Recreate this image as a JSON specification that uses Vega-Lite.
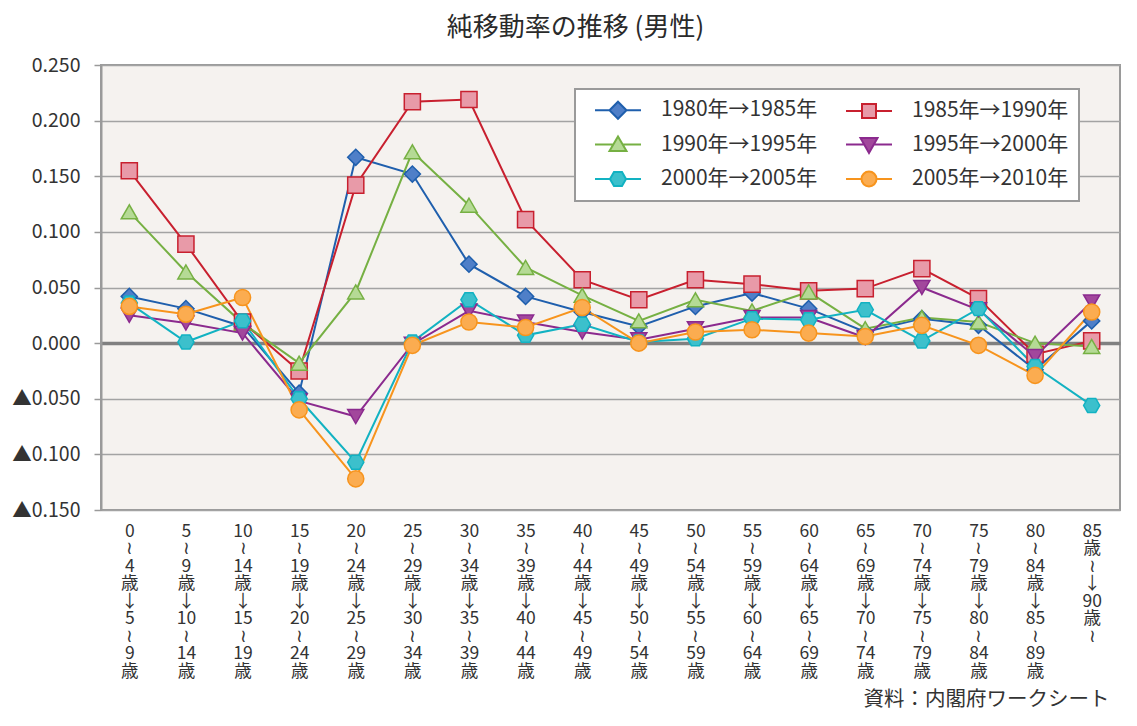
{
  "$schema": "https://vega.github.io/schema/vega-lite/v6.json",
  "width": 1019,
  "height": 445,
  "autosize": {"type": "none"},
  "padding": {"left": 101, "top": 65, "right": 17, "bottom": 216},
  "background": "#ffffff",
  "title": {"text": "純移動率の推移 (男性)", "fontSize": 26, "font": "Noto Sans CJK JP", "fontWeight": "normal", "color": "#2a2a2a", "anchor": "middle", "dx": -35, "offset": 14},
  "config": {
    "font": "Noto Sans CJK JP",
    "view": {"stroke": "#9a9a9a", "strokeWidth": 2, "fill": "#f5f2ef"}
  },
  "data": {
    "values": [
      {"age": "0|≀|4|歳|↓|5|≀|9|歳", "1980年→1985年": 0.042, "1985年→1990年": 0.155, "1990年→1995年": 0.118, "1995年→2000年": 0.025, "2000年→2005年": 0.036, "2005年→2010年": 0.033},
      {"age": "5|≀|9|歳|↓|10|≀|14|歳", "1980年→1985年": 0.031, "1985年→1990年": 0.089, "1990年→1995年": 0.064, "1995年→2000年": 0.018, "2000年→2005年": 0.001, "2005年→2010年": 0.026},
      {"age": "10|≀|14|歳|↓|15|≀|19|歳", "1980年→1985年": 0.015, "1985年→1990年": 0.019, "1990年→1995年": 0.018, "1995年→2000年": 0.009, "2000年→2005年": 0.020, "2005年→2010年": 0.041},
      {"age": "15|≀|19|歳|↓|20|≀|24|歳", "1980年→1985年": -0.045, "1985年→1990年": -0.025, "1990年→1995年": -0.018, "1995年→2000年": -0.052, "2000年→2005年": -0.050, "2005年→2010年": -0.060},
      {"age": "20|≀|24|歳|↓|25|≀|29|歳", "1980年→1985年": 0.167, "1985年→1990年": 0.142, "1990年→1995年": 0.046, "1995年→2000年": -0.066, "2000年→2005年": -0.107, "2005年→2010年": -0.122},
      {"age": "25|≀|29|歳|↓|30|≀|34|歳", "1980年→1985年": 0.152, "1985年→1990年": 0.217, "1990年→1995年": 0.172, "1995年→2000年": -0.001, "2000年→2005年": 0.001, "2005年→2010年": -0.002},
      {"age": "30|≀|34|歳|↓|35|≀|39|歳", "1980年→1985年": 0.071, "1985年→1990年": 0.219, "1990年→1995年": 0.124, "1995年→2000年": 0.029, "2000年→2005年": 0.039, "2005年→2010年": 0.019},
      {"age": "35|≀|39|歳|↓|40|≀|44|歳", "1980年→1985年": 0.042, "1985年→1990年": 0.111, "1990年→1995年": 0.068, "1995年→2000年": 0.019, "2000年→2005年": 0.007, "2005年→2010年": 0.014},
      {"age": "40|≀|44|歳|↓|45|≀|49|歳", "1980年→1985年": 0.028, "1985年→1990年": 0.057, "1990年→1995年": 0.043, "1995年→2000年": 0.010, "2000年→2005年": 0.017, "2005年→2010年": 0.032},
      {"age": "45|≀|49|歳|↓|50|≀|54|歳", "1980年→1985年": 0.015, "1985年→1990年": 0.039, "1990年→1995年": 0.020, "1995年→2000年": 0.003, "2000年→2005年": 0.001, "2005年→2010年": 0.000},
      {"age": "50|≀|54|歳|↓|55|≀|59|歳", "1980年→1985年": 0.033, "1985年→1990年": 0.057, "1990年→1995年": 0.039, "1995年→2000年": 0.013, "2000年→2005年": 0.004, "2005年→2010年": 0.010},
      {"age": "55|≀|59|歳|↓|60|≀|64|歳", "1980年→1985年": 0.045, "1985年→1990年": 0.053, "1990年→1995年": 0.029, "1995年→2000年": 0.023, "2000年→2005年": 0.022, "2005年→2010年": 0.012},
      {"age": "60|≀|64|歳|↓|65|≀|69|歳", "1980年→1985年": 0.031, "1985年→1990年": 0.047, "1990年→1995年": 0.046, "1995年→2000年": 0.023, "2000年→2005年": 0.021, "2005年→2010年": 0.009},
      {"age": "65|≀|69|歳|↓|70|≀|74|歳", "1980年→1985年": 0.010, "1985年→1990年": 0.049, "1990年→1995年": 0.013, "1995年→2000年": 0.005, "2000年→2005年": 0.030, "2005年→2010年": 0.006},
      {"age": "70|≀|74|歳|↓|75|≀|79|歳", "1980年→1985年": 0.022, "1985年→1990年": 0.067, "1990年→1995年": 0.023, "1995年→2000年": 0.050, "2000年→2005年": 0.002, "2005年→2010年": 0.016},
      {"age": "75|≀|79|歳|↓|80|≀|84|歳", "1980年→1985年": 0.016, "1985年→1990年": 0.040, "1990年→1995年": 0.019, "1995年→2000年": 0.030, "2000年→2005年": 0.031, "2005年→2010年": -0.002},
      {"age": "80|≀|84|歳|↓|85|≀|89|歳", "1980年→1985年": -0.024, "1985年→1990年": -0.010, "1990年→1995年": 0.000, "1995年→2000年": -0.012, "2000年→2005年": -0.021, "2005年→2010年": -0.029},
      {"age": "85|歳|≀||↓|90|歳|≀", "1980年→1985年": 0.020, "1985年→1990年": 0.002, "1990年→1995年": -0.003, "1995年→2000年": 0.037, "2000年→2005年": -0.056, "2005年→2010年": 0.028}
    ]
  },
  "transform": [
    {"fold": ["1980年→1985年", "1985年→1990年", "1990年→1995年", "1995年→2000年", "2000年→2005年", "2005年→2010年"], "as": ["series", "value"]}
  ],
  "encoding": {
    "x": {
      "field": "age", "type": "ordinal", "sort": null,
      "axis": {
        "title": "資料：内閣府ワークシート",
        "labelExpr": "split(datum.label, '|')",
        "labelAngle": 0, "domain": false, "ticks": false,
        "labelFontSize": 17.5, "labelLineHeight": 17.5, "labelPadding": 12,
        "labelColor": "#333333", "labelBaseline": "top", "labelOverlap": false,
        "titleX": 1008, "titleAlign": "right", "titleFontSize": 20.5,
        "titleFontWeight": "normal", "titleColor": "#333333", "titlePadding": 10
      }
    },
    "y": {
      "field": "value", "type": "quantitative",
      "scale": {"domain": [-0.15, 0.25], "nice": false, "zero": false},
      "axis": {
        "title": null,
        "values": [-0.15, -0.1, -0.05, 0, 0.05, 0.1, 0.15, 0.2, 0.25],
        "labelExpr": "datum.value < 0 ? '▲' + format(-datum.value, '.3f') : format(datum.value, '.3f')",
        "labelFontSize": 19.5, "labelColor": "#333333", "labelPadding": 14,
        "tickSize": 7, "tickColor": "#9a9a9a", "tickWidth": 1.5,
        "domainColor": "#9a9a9a", "domainWidth": 2,
        "gridColor": {"condition": {"test": "datum.value === 0", "value": "#808080"}, "value": "#a3a3a3"},
        "gridWidth": {"condition": {"test": "datum.value === 0", "value": 3.5}, "value": 1.5}
      }
    }
  },
  "layer": [
    {
      "mark": {"type": "line", "strokeWidth": 2},
      "encoding": {
        "stroke": {
          "field": "series", "type": "nominal", "sort": null,
          "scale": {
            "domain": ["1980年→1985年", "1985年→1990年", "1990年→1995年", "1995年→2000年", "2000年→2005年", "2005年→2010年"],
            "range": ["#1f5fad", "#c8202f", "#76b043", "#8b2a8e", "#12b2c2", "#f7941d"]
          },
          "legend": {
            "title": null, "orient": "none", "legendX": 474, "legendY": 24,
            "columns": 2, "direction": "horizontal", "columnPadding": 18, "rowPadding": 9.5,
            "symbolSize": 400, "symbolStrokeWidth": 2, "symbolOffset": 22,
            "labelFontSize": 21, "labelColor": "#333333", "labelOffset": 32, "labelLimit": 300,
            "fillColor": "#ffffff", "strokeColor": "#9a9a9a", "padding": 10,
            "encode": {
              "legend": {"update": {"strokeWidth": {"value": 2}}},
              "symbols": {
                "update": {
                  "shape": {"signal": "['M-2.3,0L-0.85,0M0.85,0L2.3,0M0,-0.85L0.85,0L0,0.85L-0.85,0Z', 'M-2.3,0L-0.7,0M0.7,0L2.3,0M-0.7,-0.7L0.7,-0.7L0.7,0.7L-0.7,0.7Z', 'M-2.3,0L-0.47,0M0.47,0L2.3,0M0,-0.8L0.85,0.65L-0.85,0.65Z', 'M-2.3,0L-0.48,0M0.48,0L2.3,0M0,0.85L0.85,-0.65L-0.85,-0.65Z', 'M-2.3,0L-0.8,0M0.8,0L2.3,0M-0.8,0L-0.4,-0.7L0.4,-0.7L0.8,0L0.4,0.7L-0.4,0.7Z', 'M-2.3,0L-0.75,0M0.75,0L2.3,0M0.75,0A0.75,0.75,0,1,1,-0.75,0A0.75,0.75,0,1,1,0.75,0Z'][indexof(['1980年→1985年', '1985年→1990年', '1990年→1995年', '1995年→2000年', '2000年→2005年', '2005年→2010年'], datum.value)]"},
                  "fill": {"signal": "['#4f7fc8', '#e89aa8', '#b5da95', '#a2479c', '#3cc0cc', '#fbac50'][indexof(['1980年→1985年', '1985年→1990年', '1990年→1995年', '1995年→2000年', '2000年→2005年', '2005年→2010年'], datum.value)]"},
                  "stroke": {"signal": "['#1f5fad', '#c8202f', '#76b043', '#8b2a8e', '#12b2c2', '#f7941d'][indexof(['1980年→1985年', '1985年→1990年', '1990年→1995年', '1995年→2000年', '2000年→2005年', '2005年→2010年'], datum.value)]"},
                  "opacity": {"value": 1},
                  "strokeOpacity": {"value": 1},
                  "strokeWidth": {"value": 2}
                }
              }
            }
          }
        }
      }
    },
    {
      "transform": [
        {"lookup": "series", "from": {"data": {"values": [
          {"name": "1980年→1985年", "mk": "A"},
          {"name": "1985年→1990年", "mk": "B"},
          {"name": "1990年→1995年", "mk": "C"},
          {"name": "1995年→2000年", "mk": "D"},
          {"name": "2000年→2005年", "mk": "E"},
          {"name": "2005年→2010年", "mk": "F"}
        ]}, "key": "name", "fields": ["mk"]}}
      ],
      "mark": {"type": "point", "filled": false, "size": 260, "strokeWidth": 1.5, "opacity": 1},
      "encoding": {
        "color": {
          "field": "mk", "type": "nominal",
          "scale": {"domain": ["A", "B", "C", "D", "E", "F"], "range": ["#1f5fad", "#c8202f", "#76b043", "#8b2a8e", "#12b2c2", "#f7941d"]},
          "legend": null
        },
        "fill": {
          "field": "mk", "type": "nominal",
          "scale": {"domain": ["A", "B", "C", "D", "E", "F"], "range": ["#4f7fc8", "#e89aa8", "#b5da95", "#a2479c", "#3cc0cc", "#fbac50"]},
          "legend": null
        },
        "shape": {
          "field": "mk", "type": "nominal",
          "scale": {"domain": ["A", "B", "C", "D", "E", "F"], "range": ["diamond", "square", "triangle-up", "triangle-down", "M-1,0L-0.5,-0.866L0.5,-0.866L1,0L0.5,0.866L-0.5,0.866Z", "circle"]},
          "legend": null
        }
      }
    }
  ]
}
